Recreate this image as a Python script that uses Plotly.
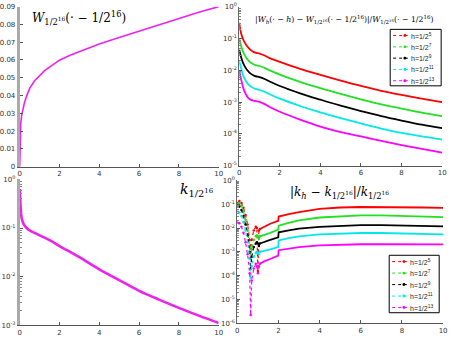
import numpy as np
import plotly.graph_objects as go

# ---------------- data ----------------
# top-left: W_{1/2^16}(. - 1/2^16)
w_x = [0, 0.005, 0.02, 0.05, 0.1, 0.175, 0.25, 0.375, 0.5, 0.75, 1, 1.25, 1.5, 2, 2.5, 3, 4, 5, 6, 7, 8, 9, 10]
w_y = [0, 0.01, 0.018, 0.024, 0.029, 0.0335, 0.0365, 0.0405, 0.044, 0.0483, 0.0514, 0.054, 0.056, 0.0599,
       0.0625, 0.0648, 0.069, 0.0727, 0.0763, 0.080, 0.0836, 0.0869, 0.09]

# top-right: relative error of W_h, log10 values
ew_x = [0, 0.1, 0.25, 0.5, 0.75, 1.0, 1.25, 1.5, 2, 3, 4, 5, 6, 7, 8, 9, 10]
ew_h5 = [-0.5, -0.85, -1.1, -1.32, -1.43, -1.47, -1.53, -1.61, -1.73, -1.95, -2.14, -2.32, -2.49, -2.64, -2.77, -2.89, -3.0]
ew_h7 = [-1.0, -1.25, -1.5, -1.72, -1.82, -1.86, -1.92, -2.0, -2.13, -2.36, -2.56, -2.74, -2.91, -3.07, -3.2, -3.33, -3.44]
ew_h9 = [-1.35, -1.6, -1.85, -2.07, -2.17, -2.21, -2.27, -2.35, -2.49, -2.72, -2.92, -3.11, -3.28, -3.44, -3.58, -3.71, -3.82]
ew_h11 = [-1.7, -1.95, -2.25, -2.47, -2.57, -2.61, -2.67, -2.75, -2.89, -3.12, -3.32, -3.5, -3.67, -3.83, -3.97, -4.08, -4.18]
ew_h13 = [-2.0, -2.3, -2.65, -2.9, -2.96, -2.99, -3.06, -3.15, -3.3, -3.55, -3.77, -3.94, -4.08, -4.22, -4.35, -4.47, -4.59]

# bottom-left: k_{1/2^16}, log10 values
k_x = [0, 0.03, 0.06, 0.1, 0.2, 0.35, 0.5, 0.75, 1, 1.5, 2, 3, 4, 5, 6, 7, 8, 9, 10]
k_y = [-0.2, -0.45, -0.65, -0.8, -0.92, -1.0, -1.05, -1.1, -1.15, -1.25, -1.37, -1.6, -1.85,
       -2.07, -2.29, -2.47, -2.64, -2.8, -2.95]

# bottom-right: relative error of k_h, log10 values
ek_x = [0, 0.1, 0.2, 0.3, 0.4, 0.5, 0.6, 0.65, 0.7, 0.8, 0.9, 0.95, 1.0, 1.05, 1.1, 1.3, 1.6,
        1.99, 2.01, 2.5, 3, 4, 5, 6, 7, 8, 9, 10]
ek_h5 = [-0.95, -0.87, -0.95, -1.15, -1.45, -1.85, -2.5, -2.86, -2.5, -2.1, -1.95, -2.0, -3.8, -2.1,
         -2.04, -1.95, -1.82, -1.7, -1.52, -1.42, -1.33, -1.2, -1.14, -1.12, -1.12, -1.13, -1.14, -1.16]
ek_h7 = [-1.0, -0.95, -1.05, -1.3, -1.65, -2.1, -2.8, -3.3, -2.9, -2.5, -2.35, -2.3, -2.35, -2.45,
         -2.35, -2.3, -2.2, -2.07, -1.9, -1.78, -1.68, -1.56, -1.5, -1.47, -1.47, -1.49, -1.51, -1.54]
ek_h9 = [-1.1, -1.1, -1.25, -1.5, -1.85, -2.3, -3.0, -3.7, -3.2, -2.8, -2.65, -2.6, -2.65, -2.75,
         -2.65, -2.6, -2.5, -2.39, -2.18, -2.1, -2.03, -1.95, -1.9, -1.88, -1.88, -1.9, -1.92, -1.93]
ek_h11 = [-1.3, -1.35, -1.5, -1.75, -2.1, -2.6, -3.3, -4.1, -3.6, -3.2, -3.05, -3.0, -3.05, -3.1,
          -3.0, -2.97, -2.9, -2.8, -2.52, -2.42, -2.35, -2.27, -2.23, -2.21, -2.21, -2.23, -2.25, -2.27]
ek_h13 = [-1.77, -1.8, -1.95, -2.2, -2.6, -3.1, -3.9, -5.65, -4.2, -3.7, -3.5, -3.6, -3.9, -3.6,
          -3.5, -3.4, -3.3, -3.16, -2.93, -2.85, -2.8, -2.73, -2.7, -2.68, -2.68, -2.68, -2.69, -2.69]

labels = ["h=1/2<sup>5</sup>", "h=1/2<sup>7</sup>", "h=1/2<sup>9</sup>",
          "h=1/2<sup>11</sup>", "h=1/2<sup>13</sup>"]
colors = ["#ff0000", "#22e022", "#000000", "#00e8e8", "#ff00ff"]

x_ticks = [0, 2, 4, 6, 8, 10]
w_ticks = [0, 0.01, 0.02, 0.03, 0.04, 0.05, 0.06, 0.07, 0.08, 0.09]

# ---------------- figure ----------------
fig = go.Figure()

fig.add_trace(go.Scatter(x=w_x, y=w_y, mode="lines", line=dict(color="#ee22ee", width=1.6),
                         xaxis="x", yaxis="y", showlegend=False))

for vals, col in zip([ew_h5, ew_h7, ew_h9, ew_h11, ew_h13], colors):
    fig.add_trace(go.Scatter(x=ew_x, y=10 ** np.array(vals), mode="lines",
                             line=dict(color=col, width=1.8, shape="spline"),
                             xaxis="x2", yaxis="y2", showlegend=False))

fig.add_trace(go.Scatter(x=k_x, y=10 ** np.array(k_y), mode="lines",
                         line=dict(color="#ee22ee", width=2.6, shape="spline"),
                         xaxis="x3", yaxis="y3", showlegend=False))

split = ek_x.index(1.1)
for vals, col in zip([ek_h5, ek_h7, ek_h9, ek_h11, ek_h13], colors):
    v = 10 ** np.array(vals)
    fig.add_trace(go.Scatter(x=ek_x[:split + 1], y=v[:split + 1], mode="lines+markers",
                             line=dict(color=col, width=1.2, dash="dot"), marker=dict(size=2.5, color=col),
                             xaxis="x4", yaxis="y4", showlegend=False))
    fig.add_trace(go.Scatter(x=ek_x[split:], y=v[split:], mode="lines",
                             line=dict(color=col, width=1.8),
                             xaxis="x4", yaxis="y4", showlegend=False))

W, H = 453, 344
def dx(a, b):
    return [a / W, b / W]
def dy(top, bot):
    return [1 - bot / H, 1 - top / H]

tickfont = dict(family="DejaVu Sans", size=7, color="#333333")
xcommon = dict(range=[0, 10], tickvals=x_ticks, ticks="inside", ticklen=3, tickcolor="#555",
               showline=True, linecolor="#555", linewidth=1, showgrid=False, zeroline=False,
               tickfont=tickfont, fixedrange=True)

def logy(lo):
    vals = [10.0 ** e for e in range(lo, 1)]
    txt = ["10<sup>%d</sup>" % e for e in range(lo, 1)]
    return dict(type="log", range=[lo, 0], tickvals=vals, ticktext=txt, ticks="inside", ticklen=3,
                tickcolor="#555", showline=True, linecolor="#666", linewidth=1, showgrid=False,
                zeroline=False, tickfont=tickfont,
                minor=dict(ticks="inside", ticklen=2, tickcolor="#888", dtick="D1"))

y2 = logy(-5); y2["anchor"] = "x2"
y3 = logy(-3); y3["anchor"] = "x3"; y3["linecolor"] = "#aaaaaa"; y3["linewidth"] = 3
y4 = logy(-6); y4["anchor"] = "x4"

# ---- hand-drawn legends (paper coordinates, in pixels converted) ----
shapes = []
annotations = []

def add_legend(left, top, right, bottom):
    shapes.append(dict(type="rect", xref="paper", yref="paper", x0=left / W, x1=right / W,
                       y0=1 - bottom / H, y1=1 - top / H, line=dict(color="black", width=1),
                       fillcolor="white", layer="above"))
    step = (bottom - top) / len(labels)
    for i, (lab, col) in enumerate(zip(labels, colors)):
        cy = top + step * (i + 0.55)
        shapes.append(dict(type="line", xref="paper", yref="paper", x0=(left + 3) / W, x1=(left + 18) / W,
                           y0=1 - cy / H, y1=1 - cy / H, line=dict(color=col, width=1, dash="dot"),
                           layer="above"))
        shapes.append(dict(type="circle", xref="paper", yref="paper", x0=(left + 13.5) / W, x1=(left + 16.5) / W,
                           y0=1 - (cy + 1.5) / H, y1=1 - (cy - 1.5) / H, line=dict(color=col, width=0),
                           fillcolor=col, layer="above"))
        annotations.append(dict(text=lab, x=(left + 19) / W, y=1 - cy / H, xref="paper", yref="paper",
                                xanchor="left", yanchor="middle", showarrow=False,
                                font=dict(family="Liberation Sans", size=7, color="#222")))

add_legend(393, 25, 445, 83)
add_legend(392, 257, 443, 316)

annotations += [
    dict(text="<i>W</i><sub>1/2<sup>16</sup></sub>(· − 1/2<sup>16</sup>)", x=26 / W, y=1 - 13 / H,
         xref="paper", yref="paper", xanchor="left", yanchor="middle", showarrow=False,
         font=dict(family="DejaVu Serif", size=12, color="black")),
    dict(text="|<i>W<sub>h</sub></i>(· − <i>h</i>) − <i>W</i><sub>1/2<sup>16</sup></sub>(· − 1/2<sup>16</sup>)|/<i>W</i><sub>1/2<sup>16</sup></sub>(· − 1/2<sup>16</sup>)",
         x=253 / W, y=1 - 15 / H, xref="paper", yref="paper", xanchor="left", yanchor="middle",
         showarrow=False, font=dict(family="DejaVu Serif", size=7.8, color="black")),
    dict(text="<i>k</i><sub>1/2<sup>16</sup></sub>", x=214 / W, y=1 - 190 / H, xref="paper", yref="paper",
         xanchor="right", yanchor="middle", showarrow=False,
         font=dict(family="DejaVu Serif", size=14, color="black")),
    dict(text="|<i>k<sub>h</sub></i> − <i>k</i><sub>1/2<sup>16</sup></sub>|/<i>k</i><sub>1/2<sup>16</sup></sub>",
         x=341 / W, y=1 - 193 / H, xref="paper", yref="paper", xanchor="center", yanchor="middle",
         showarrow=False, font=dict(family="DejaVu Serif", size=12, color="black")),
]

fig.update_layout(
    width=W, height=H, margin=dict(l=0, r=0, t=0, b=0),
    paper_bgcolor="white", plot_bgcolor="white", showlegend=False,
    xaxis=dict(xcommon, domain=dx(15, 218), anchor="y"),
    yaxis=dict(domain=dy(1.7, 166), anchor="x", range=[0, 0.09], tickvals=w_ticks,
               ticktext=["0"] + ["%.2f" % v for v in w_ticks[1:]],
               ticks="inside", ticklen=3, tickcolor="#555", showline=True, linecolor="#aaaaaa",
               linewidth=3, showgrid=False, zeroline=False, tickfont=tickfont),
    xaxis2=dict(xcommon, domain=dx(239, 446), anchor="y2"),
    yaxis2=dict(y2, domain=dy(2, 165)),
    xaxis3=dict(xcommon, domain=dx(15, 218), anchor="y3"),
    yaxis3=dict(y3, domain=dy(179, 329)),
    xaxis4=dict(xcommon, domain=dx(237, 447), anchor="y4"),
    yaxis4=dict(y4, domain=dy(180, 327)),
    shapes=shapes,
    annotations=annotations,
)

fig.write_html("out.html")
